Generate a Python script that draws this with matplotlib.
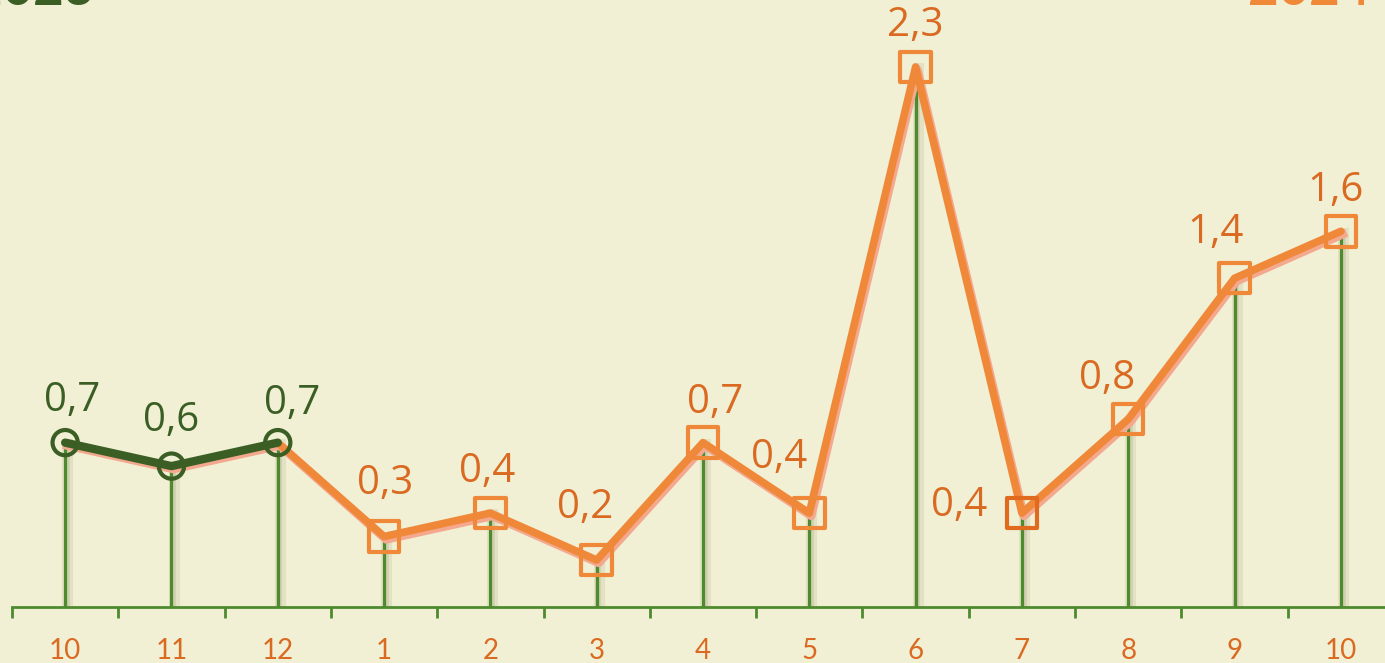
import matplotlib
matplotlib.use("Agg")
import matplotlib.pyplot as plt
import matplotlib.patheffects as pe
import matplotlib.transforms as mtrans

months = ["10", "11", "12", "1", "2", "3", "4", "5", "6", "7", "8", "9", "10"]
values = [0.7, 0.6, 0.7, 0.3, 0.4, 0.2, 0.7, 0.4, 2.3, 0.4, 0.8, 1.4, 1.6]
labels = ["0,7", "0,6", "0,7", "0,3", "0,4", "0,2", "0,7", "0,4", "2,3", "0,4", "0,8", "1,4", "1,6"]
n_2023 = 3
year_left = "2023"
year_right = "2024"

# label offsets (points) relative to each marker
label_offsets = [(5, 30), (0, 33), (10, 28), (1, 38), (-2, 30), (-8, 38), (9, 29),
                 (-22, 40), (0, 30), (-45, 5), (-15, 29), (-14, 33), (-4, 29)]

BG = "#F1F0D4"
DARK = "#3B5E25"
ORANGE = "#F0883A"
ORANGE_DARK = "#E06A1E"
LABEL_OR = "#DA6A22"
STEM = "#4E8A2E"
SHADOW = "#F4A88E"

W, H = 1385, 663
fig = plt.figure(figsize=(W / 100, H / 100), dpi=100, facecolor=BG)
ax = fig.add_axes([12 / W, (H - 607) / H, 1382 / W, 607 / H])
ax.set_facecolor(BG)
x = list(range(len(values)))
ax.set_xlim(-0.5, len(values) - 0.5)
ax.set_ylim(0, 607 / 234.8)

for s in ["top", "right", "left"]:
    ax.spines[s].set_visible(False)
ax.spines["bottom"].set_color(STEM)
ax.spines["bottom"].set_linewidth(2)
ax.set_yticks([])

# stems with soft shadow
for xi, v in zip(x, values):
    ax.plot([xi, xi], [0, v], color=STEM, lw=2.3, zorder=2,
            path_effects=[pe.SimpleLineShadow(offset=(1.5, -1), shadow_color="#7A7A50", alpha=0.12, linewidth=8),
                          pe.SimpleLineShadow(offset=(1.2, -1), shadow_color="#7A7A50", alpha=0.18, linewidth=4),
                          pe.Normal()])

# shadow line
ax.plot(x, values, color=SHADOW, lw=6, zorder=3,
        transform=ax.transData + mtrans.ScaledTranslation(2 / 100, -3 / 100, fig.dpi_scale_trans))

# 2024 line
ax.plot(x[n_2023 - 1:], values[n_2023 - 1:], color=ORANGE, lw=5.5, zorder=4, solid_capstyle="round")
# 2023 line
ax.plot(x[:n_2023], values[:n_2023], color=DARK, lw=6, zorder=5, solid_capstyle="round")

# markers
ax.scatter(x[:n_2023], values[:n_2023], s=330, marker="o", facecolors="none",
           edgecolors=DARK, linewidths=3, zorder=6)
sq_colors = [ORANGE] * (len(values) - n_2023)
sq_colors[9 - n_2023] = ORANGE_DARK
ax.scatter(x[n_2023:], values[n_2023:], s=480, marker="s", facecolors="none",
           edgecolors=sq_colors, linewidths=3, zorder=6)

for i, (xi, v, lab) in enumerate(zip(x, values, labels)):
    col = DARK if i < n_2023 else LABEL_OR
    dx, dy = label_offsets[i]
    ax.annotate(lab, (xi, v), xytext=(dx, dy), textcoords="offset points",
                ha="center", va="center", fontsize=29, color=col, family="Open Sans", zorder=7)

ax.set_xticks(x)
ax.set_xticklabels(months, fontsize=20, color=LABEL_OR, family="Lato")
ax.tick_params(axis="x", which="major", length=0, pad=22)
ax.set_xticks([i - 0.5 for i in range(len(values) + 1)], minor=True)
ax.tick_params(axis="x", which="minor", length=8, width=2, color=STEM, direction="out")

fig.text(-28 / W, 1 - 5 / H, year_left, fontsize=38, color=DARK, fontweight="bold",
         family="Lato", ha="left", va="baseline")
fig.text(1370 / W, 1 - 5 / H, year_right, fontsize=38, color=ORANGE, fontweight="bold",
         family="Lato", ha="right", va="baseline")

fig.savefig("out.png", dpi=100, facecolor=BG)
